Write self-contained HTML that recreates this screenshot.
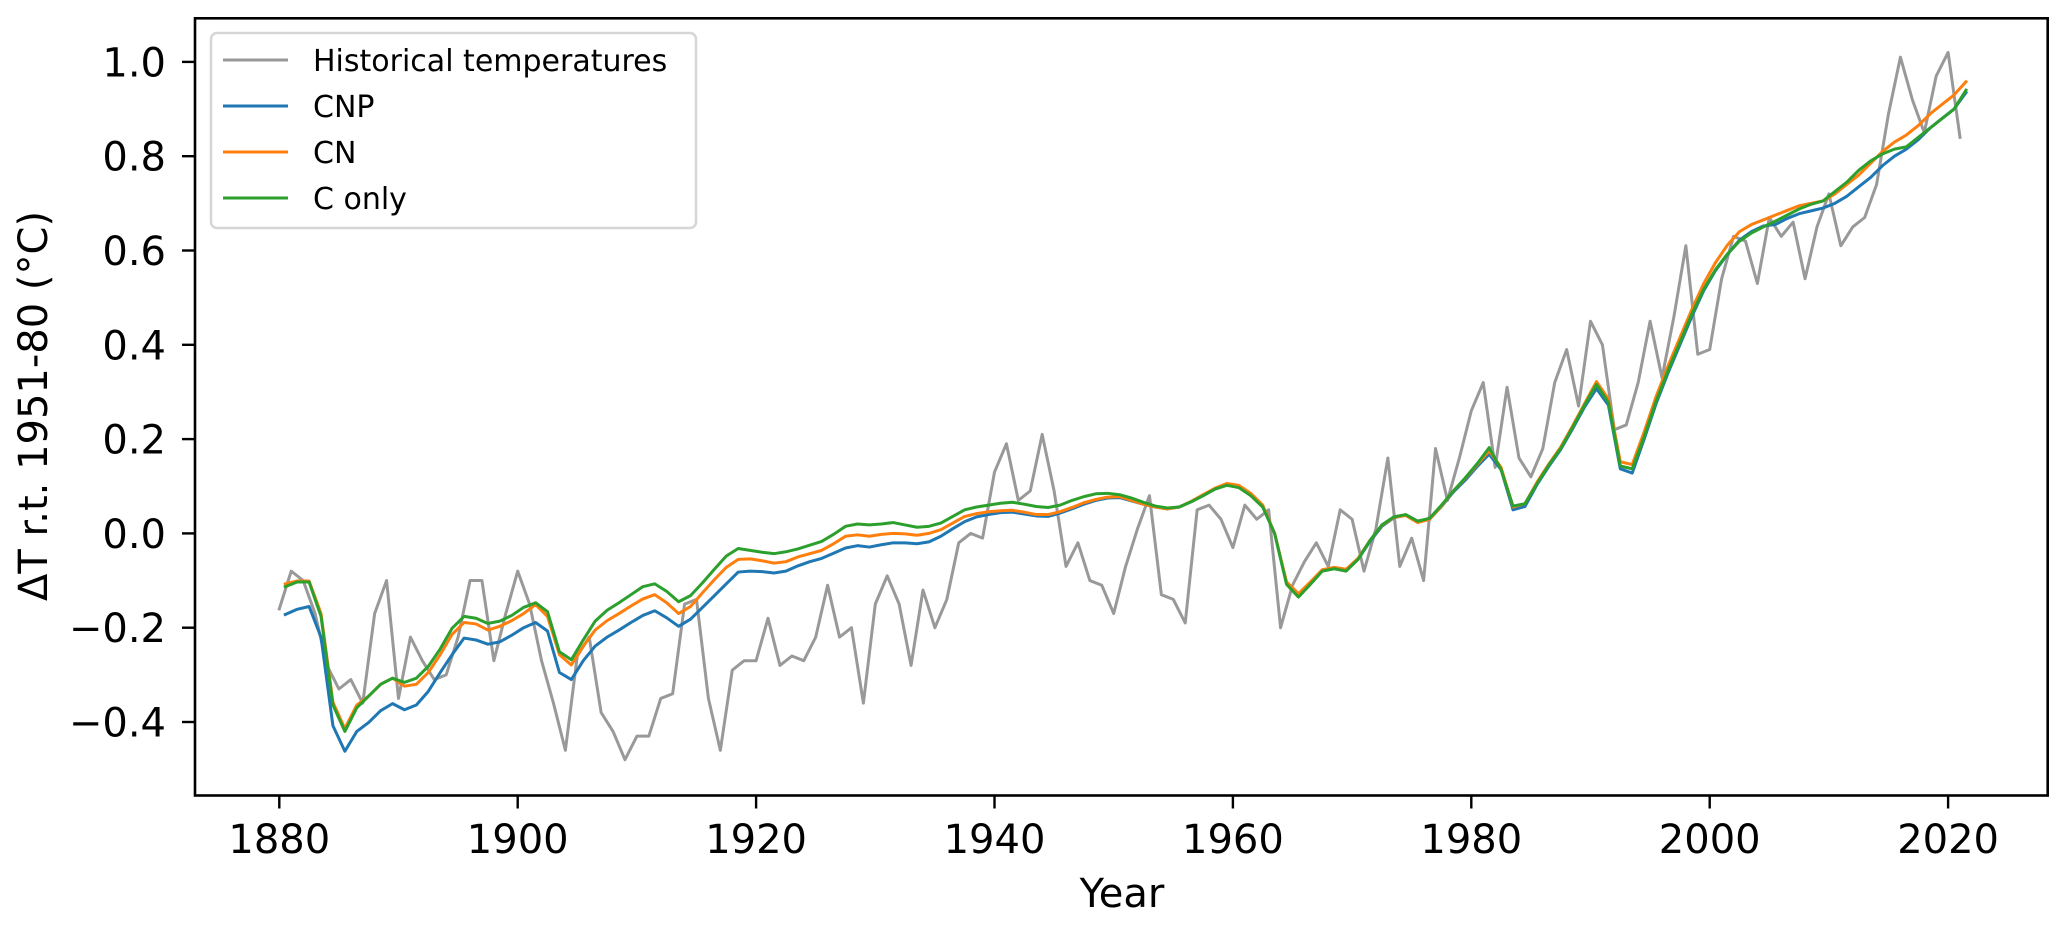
<!DOCTYPE html>
<html><head><meta charset="utf-8"><style>
html,body{margin:0;padding:0;background:#fff;}
svg{display:block;font-family:"DejaVu Sans","Liberation Sans",sans-serif;}
</style></head><body>
<svg id="chart" width="2067" height="925" viewBox="0 0 2067 925" xmlns="http://www.w3.org/2000/svg">
<rect x="0" y="0" width="2067" height="925" fill="#fff"/>
<g id="plot"></g>
<g id="axes"></g>
<text x="1122" y="907" font-size="40" text-anchor="middle" fill="#000">Year</text>
<text transform="translate(47,406) rotate(-90)" font-size="40" text-anchor="middle" fill="#000">ΔT r.t. 1951-80 (°C)</text>
<g>
<rect x="211" y="33" width="485" height="195" rx="6" fill="#fff" fill-opacity="0.8" stroke="#d6d6d6" stroke-width="2.5"/>
<g><line x1="223" y1="60" x2="288" y2="60" stroke="#999" stroke-width="3"/><text x="313" y="71" font-size="30">Historical temperatures</text></g>
<g><line x1="223" y1="106" x2="288" y2="106" stroke="#1f77b4" stroke-width="3"/><text x="313" y="117" font-size="30">CNP</text></g>
<g><line x1="223" y1="152" x2="288" y2="152" stroke="#ff7f0e" stroke-width="3"/><text x="313" y="163" font-size="30">CN</text></g>
<g><line x1="223" y1="198" x2="288" y2="198" stroke="#2ca02c" stroke-width="3"/><text x="313" y="209" font-size="30">C only</text></g>
</g>
</svg>
<script>
const histStart = 1880;
const histValues = [-0.16,-0.08,-0.10,-0.17,-0.28,-0.33,-0.31,-0.36,-0.17,-0.10,
-0.35,-0.22,-0.27,-0.31,-0.30,-0.22,-0.10,-0.10,-0.27,-0.17,
-0.08,-0.15,-0.27,-0.36,-0.46,-0.26,-0.22,-0.38,-0.42,-0.48,
-0.43,-0.43,-0.35,-0.34,-0.15,-0.14,-0.35,-0.46,-0.29,-0.27,
-0.27,-0.18,-0.28,-0.26,-0.27,-0.22,-0.11,-0.22,-0.20,-0.36,
-0.15,-0.09,-0.15,-0.28,-0.12,-0.20,-0.14,-0.02,0.00,-0.01,
0.13,0.19,0.07,0.09,0.21,0.09,-0.07,-0.02,-0.10,-0.11,
-0.17,-0.07,0.01,0.08,-0.13,-0.14,-0.19,0.05,0.06,0.03,
-0.03,0.06,0.03,0.05,-0.20,-0.11,-0.06,-0.02,-0.07,0.05,
0.03,-0.08,0.01,0.16,-0.07,-0.01,-0.10,0.18,0.07,0.16,
0.26,0.32,0.14,0.31,0.16,0.12,0.18,0.32,0.39,0.27,
0.45,0.40,0.22,0.23,0.32,0.45,0.33,0.46,0.61,0.38,
0.39,0.54,0.63,0.62,0.53,0.67,0.63,0.66,0.54,0.65,
0.72,0.61,0.65,0.67,0.74,0.89,1.01,0.92,0.85,0.97,
1.02,0.84];
const modelStart = 1880.5;
const cnpValues = [-0.172,-0.161,-0.155,-0.220,-0.408,-0.462,-0.420,-0.401,-0.376,-0.361,
-0.374,-0.364,-0.335,-0.295,-0.257,-0.222,-0.226,-0.235,-0.230,-0.216,
-0.200,-0.189,-0.207,-0.295,-0.310,-0.270,-0.239,-0.220,-0.205,-0.189,
-0.174,-0.164,-0.179,-0.197,-0.182,-0.157,-0.132,-0.107,-0.082,-0.080,
-0.081,-0.084,-0.080,-0.069,-0.060,-0.053,-0.042,-0.031,-0.026,-0.029,
-0.024,-0.020,-0.020,-0.022,-0.018,-0.006,0.010,0.025,0.035,0.040,
0.044,0.045,0.041,0.037,0.036,0.043,0.052,0.062,0.070,0.075,
0.076,0.069,0.062,0.056,0.052,0.056,0.067,0.080,0.094,0.103,
0.098,0.081,0.057,0.0,-0.105,-0.130,-0.105,-0.079,-0.074,-0.079,
-0.055,-0.017,0.015,0.033,0.039,0.026,0.030,0.057,0.088,0.113,
0.142,0.168,0.135,0.050,0.057,0.103,0.142,0.178,0.222,0.268,
0.307,0.272,0.137,0.128,0.200,0.275,0.340,0.400,0.460,0.515,
0.558,0.592,0.622,0.640,0.652,0.655,0.668,0.678,0.684,
0.690,0.700,0.715,0.735,0.755,0.780,0.800,0.815,0.835,0.860,0.880,0.900,0.935];
const cnValues = [-0.107,-0.101,-0.101,-0.170,-0.358,-0.414,-0.364,-0.345,-0.320,-0.307,
-0.324,-0.320,-0.295,-0.257,-0.214,-0.189,-0.192,-0.205,-0.197,-0.185,
-0.170,-0.151,-0.176,-0.257,-0.279,-0.239,-0.205,-0.185,-0.170,-0.154,
-0.139,-0.130,-0.147,-0.170,-0.155,-0.126,-0.098,-0.072,-0.055,-0.054,
-0.058,-0.063,-0.060,-0.050,-0.043,-0.036,-0.022,-0.006,-0.003,-0.006,
-0.002,0.000,-0.001,-0.004,0.000,0.008,0.022,0.036,0.042,0.046,
0.048,0.049,0.045,0.040,0.040,0.046,0.055,0.065,0.072,0.077,
0.078,0.070,0.062,0.056,0.052,0.056,0.068,0.082,0.096,0.106,
0.102,0.085,0.060,0.0,-0.103,-0.128,-0.103,-0.077,-0.072,-0.076,
-0.053,-0.015,0.017,0.034,0.038,0.023,0.030,0.058,0.090,0.117,
0.146,0.175,0.140,0.056,0.063,0.108,0.147,0.183,0.228,0.275,
0.322,0.285,0.152,0.146,0.215,0.290,0.355,0.415,0.475,0.530,
0.575,0.612,0.640,0.655,0.665,0.675,0.685,0.695,0.700,
0.705,0.720,0.740,0.760,0.785,0.810,0.830,0.845,0.865,0.890,0.910,0.930,0.958];
const cOnlyValues = [-0.113,-0.103,-0.103,-0.176,-0.364,-0.420,-0.370,-0.345,-0.320,-0.307,
-0.316,-0.307,-0.282,-0.245,-0.201,-0.176,-0.180,-0.191,-0.186,-0.174,
-0.157,-0.147,-0.166,-0.251,-0.268,-0.226,-0.186,-0.163,-0.147,-0.130,
-0.113,-0.107,-0.123,-0.145,-0.132,-0.105,-0.076,-0.048,-0.032,-0.036,
-0.040,-0.043,-0.039,-0.033,-0.025,-0.017,-0.002,0.015,0.020,0.018,
0.020,0.023,0.018,0.013,0.015,0.022,0.036,0.050,0.056,0.060,
0.064,0.066,0.062,0.057,0.055,0.060,0.070,0.078,0.084,0.085,
0.082,0.075,0.066,0.058,0.054,0.056,0.067,0.080,0.094,0.102,
0.097,0.080,0.056,0.0,-0.108,-0.135,-0.108,-0.080,-0.075,-0.080,
-0.055,-0.015,0.018,0.035,0.040,0.026,0.032,0.060,0.090,0.118,
0.148,0.182,0.135,0.058,0.063,0.105,0.145,0.180,0.225,0.272,
0.316,0.278,0.143,0.137,0.205,0.280,0.345,0.405,0.465,0.518,
0.560,0.593,0.620,0.637,0.650,0.662,0.675,0.688,0.698,
0.705,0.725,0.745,0.770,0.790,0.805,0.815,0.820,0.840,0.860,0.880,0.900,0.940];
const xTicks = [1880,1900,1920,1940,1960,1980,2000,2020];
const yTicks = [-0.4,-0.2,0.0,0.2,0.4,0.6,0.8,1.0];

const NS = "http://www.w3.org/2000/svg";
const AX = {left:195, right:2047.7, top:18.3, bottom:795.5};
function xScale(yr){ return 279.3 + (yr - 1880) * 11.92; }
function yScale(v){ return 533.4 - v * 471.5; }
function mk(tag, attrs, parent){
  const e = document.createElementNS(NS, tag);
  for (const k in attrs) e.setAttribute(k, attrs[k]);
  parent.appendChild(e);
  return e;
}
const plot = document.getElementById('plot');
const axes = document.getElementById('axes');

function drawSeries(vals, start, color, name){
  let d = '';
  vals.forEach((v,i)=>{ d += (i?'L':'M') + xScale(start+i).toFixed(2) + ',' + yScale(v).toFixed(2); });
  const p = mk('path', {d:d, fill:'none', stroke:color, 'stroke-width':3, 'stroke-linejoin':'round', 'stroke-linecap':'square'}, plot);
  
  
}
drawSeries(histValues, histStart, '#999999', 'historical-temperatures-line');
drawSeries(cnpValues, modelStart, '#1f77b4', 'cnp-line');
drawSeries(cnValues, modelStart, '#ff7f0e', 'cn-line');
drawSeries(cOnlyValues, modelStart, '#2ca02c', 'c-only-line');

const frame = mk('rect', {x:AX.left, y:AX.top, width:AX.right-AX.left, height:AX.bottom-AX.top, fill:'none', stroke:'#000', 'stroke-width':2.6}, axes);



xTicks.forEach(t=>{
  const x = xScale(t);
  const tk = mk('line', {x1:x, y1:AX.bottom, x2:x, y2:AX.bottom+13, stroke:'#000', 'stroke-width':2.4}, axes);
  
  
  const lb = mk('text', {x:x, y:853, 'font-size':40, 'text-anchor':'middle', fill:'#000'}, axes);
  lb.textContent = String(t);
  
  
});
yTicks.forEach(t=>{
  const y = yScale(t);
  const tk = mk('line', {x1:AX.left-13, y1:y, x2:AX.left, y2:y, stroke:'#000', 'stroke-width':2.4}, axes);
  
  
  const lb = mk('text', {x:166, y:y+14.5, 'font-size':40, 'text-anchor':'end', fill:'#000'}, axes);
  lb.textContent = (t < 0 ? '\u2212' : '') + Math.abs(t).toFixed(1);
  
  
});
</script>
</body></html>
